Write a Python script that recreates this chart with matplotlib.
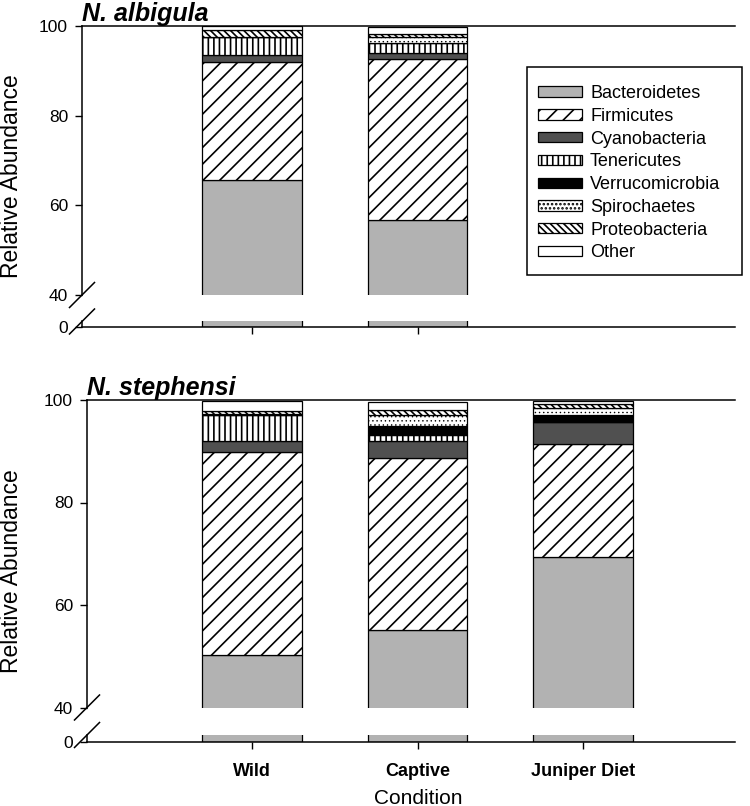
import numpy as np
import matplotlib
matplotlib.use("Agg")
import matplotlib.pyplot as plt
from matplotlib.lines import Line2D
from matplotlib.patches import Rectangle

plt.rcParams['font.family'] = ['Liberation Sans', 'DejaVu Sans']
plt.rcParams['hatch.linewidth'] = 1.2

# phylum order, bottom of the stack first
phyla = ['Bacteroidetes', 'Firmicutes', 'Cyanobacteria', 'Tenericutes',
         'Verrucomicrobia', 'Spirochaetes', 'Proteobacteria', 'Other']
colors = ['#b2b2b2', 'white', '#505050', 'white', 'black', 'white', 'white', 'white']
hatches = [None, '//', None, '|||', None, '....', '\\\\\\\\\\', None]
hatch_lw = [1.2, 1.2, 1.2, 1.2, 1.2, 0.5, 1.2, 1.2]

albigula_conditions = ['Wild', 'Captive']
stephensi_conditions = ['Wild', 'Captive', 'Juniper Diet']

# relative abundance (%) in the phylum order above
albigula_wild = [65.7, 26.3, 1.5, 4.0, 0.0, 0.1, 1.5, 0.9]
albigula_captive = [56.8, 35.9, 1.2, 2.4, 0.0, 1.3, 0.6, 1.6]
stephensi_wild = [50.2, 39.6, 2.2, 5.1, 0.0, 0.2, 0.6, 2.0]
stephensi_captive = [55.1, 33.5, 3.4, 1.2, 1.7, 2.1, 1.1, 1.5]
stephensi_juniper = [69.4, 22.0, 4.3, 0.0, 1.4, 1.4, 0.8, 0.5]

W, H = 750, 806


def rect(l, t, r, b):
    return [l / W, 1 - b / H, (r - l) / W, (b - t) / H]


def px(x, y):
    return x / W, 1 - y / H


fig = plt.figure(figsize=(7.5, 8.06), dpi=100)


def slash(x, y, d=12.5):
    (x0, y0), (x1, y1) = px(x - d, y + d), px(x + d, y - d)
    fig.add_artist(Line2D([x0, x1], [y0, y1], color='black', lw=1.1,
                          transform=fig.transFigure))


def panel(left, top, brk, lo_top, lo_bot, conds, rows, title, labels):
    ax_hi = fig.add_axes(rect(left, top, 735, brk))
    ax_lo = fig.add_axes(rect(left, lo_top, 735, lo_bot))
    x = np.arange(len(conds))
    vals = np.array(rows).T
    bottom = np.zeros(len(conds))
    handles = []
    for i, name in enumerate(phyla):
        for ax in (ax_hi, ax_lo):
            with plt.rc_context({'hatch.linewidth': hatch_lw[i]}):
                b = ax.bar(x, vals[i], 0.6, bottom=bottom, color=colors[i],
                           hatch=hatches[i], edgecolor='black', linewidth=0.9,
                           label=name)
            for p in b:
                if hasattr(p, 'set_hatch_linewidth'):
                    p.set_hatch_linewidth(hatch_lw[i])
        handles.append(b)
        bottom = bottom + vals[i]

    xl = ((left - 252) / 165.5, (735 - 252) / 165.5)
    for ax in (ax_hi, ax_lo):
        ax.set_xlim(*xl)
        for s in ax.spines.values():
            s.set_linewidth(1.1)
        ax.spines['right'].set_visible(False)
        ax.tick_params(axis='y', direction='out', length=5, width=1,
                       labelsize=12.5, pad=5)
    ax_hi.spines['bottom'].set_visible(False)
    ax_lo.spines['top'].set_visible(False)
    ax_hi.set_ylim(40, 100)
    ax_hi.set_yticks([40, 60, 80, 100])
    ax_hi.set_xticks([])
    ax_lo.set_ylim(0, 1)
    ax_lo.set_yticks([0])
    ax_lo.set_xticks(x)
    ax_lo.tick_params(axis='x', direction='out', length=5, width=1, pad=10)
    if labels:
        ax_lo.set_xticklabels(conds, fontsize=13, fontweight='bold')
    else:
        ax_lo.set_xticklabels([])
    ax_hi.set_title(title, loc='left', pad=3.5, fontsize=18,
                    fontweight='bold', fontstyle='italic')
    slash(left, brk)
    slash(left, lo_top)
    fig.text(*px(12, (top + lo_bot) / 2), 'Relative Abundance', rotation=90,
             ha='center', va='center', fontsize=16.5)
    return handles


panel(82, 26, 295, 321.5, 327, albigula_conditions,
      [albigula_wild, albigula_captive], 'N. albigula', False)
handles = panel(87, 400, 707.5, 735, 741.7, stephensi_conditions,
                [stephensi_wild, stephensi_captive, stephensi_juniper],
                'N. stephensi', True)

fig.text(*px(418, 798), 'Condition', ha='center', va='center', fontsize=15)

# legend frame drawn separately to match the box size
(fx, fy) = px(527, 275)
fig.add_artist(Rectangle((fx, fy), 215 / W, 208 / H, transform=fig.transFigure,
                         facecolor='white', edgecolor='black', lw=1.1))
leg = fig.legend(handles, phyla, loc='upper left',
                 bbox_to_anchor=px(538, 85), bbox_transform=fig.transFigure,
                 borderaxespad=0, borderpad=0, fontsize=13, frameon=False,
                 handlelength=2.44, handleheight=0.5,
                 handletextpad=0.44, labelspacing=0.32)

fig.savefig('out.png', dpi=100)
